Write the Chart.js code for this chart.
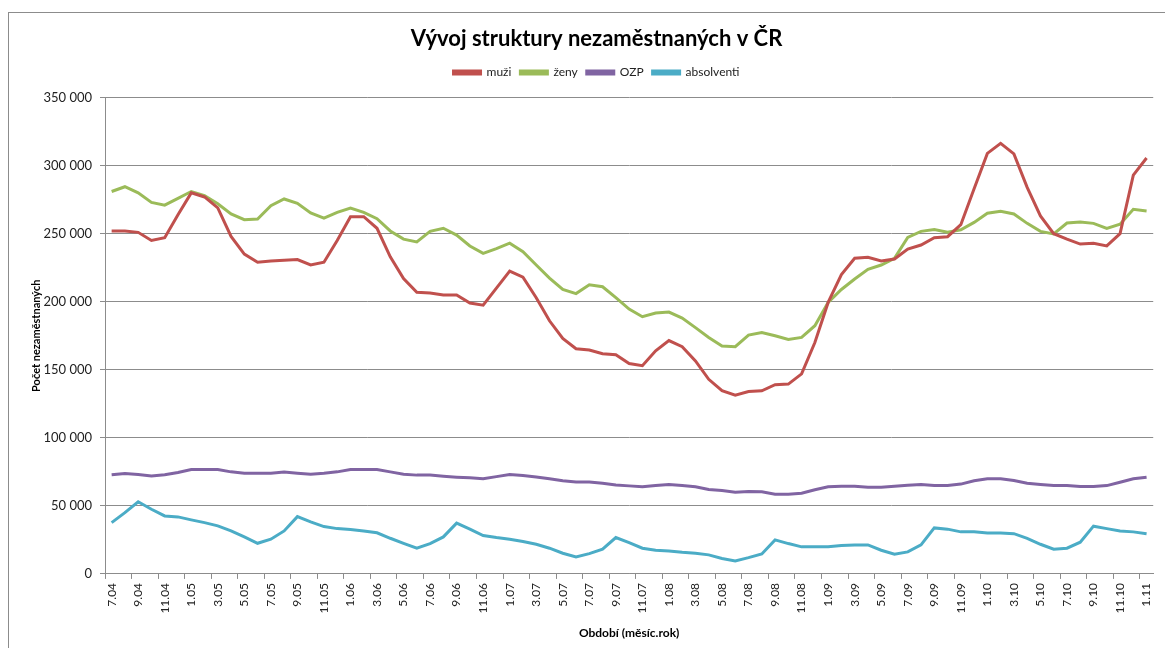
<!DOCTYPE html>
<html>
<head>
<meta charset="utf-8">
<script src="https://cdn.jsdelivr.net/npm/chart.js@4"></script>
<style>
  html, body { margin: 0; padding: 0; background: #fff; overflow: hidden; }
  #wrap { position: relative; width: 1165px; height: 648px; }
  #frame { position: absolute; left: 8px; top: 12px; width: 1170px; height: 660px; border: 1px solid #8c8c8c; box-sizing: border-box; }
  canvas { position: absolute; left: 0; top: 0; }
</style>
</head>
<body>
<div id="wrap">
  <div id="frame"></div>
  <canvas id="chart" width="1165" height="648"></canvas>
</div>
<script>
// months 7.04 .. 1.11
const periods = [
  '7.04','8.04','9.04','10.04','11.04','12.04',
  '1.05','2.05','3.05','4.05','5.05','6.05','7.05','8.05','9.05','10.05','11.05','12.05',
  '1.06','2.06','3.06','4.06','5.06','6.06','7.06','8.06','9.06','10.06','11.06','12.06',
  '1.07','2.07','3.07','4.07','5.07','6.07','7.07','8.07','9.07','10.07','11.07','12.07',
  '1.08','2.08','3.08','4.08','5.08','6.08','7.08','8.08','9.08','10.08','11.08','12.08',
  '1.09','2.09','3.09','4.09','5.09','6.09','7.09','8.09','9.09','10.09','11.09','12.09',
  '1.10','2.10','3.10','4.10','5.10','6.10','7.10','8.10','9.10','10.10','11.10','12.10',
  '1.11'
];

const muzi = [
  252000, 252000, 251000, 245000, 247000, 264000,
  280000, 277000, 269000, 248000, 235000, 229000, 230000, 230500, 231000, 227000, 229000, 245000,
  262500, 262500, 254000, 233000, 217000, 207000, 206500, 205000, 205000, 199000, 197500, 210000,
  222500, 218000, 203000, 186000, 173000, 165500, 164500, 161800, 161000, 154600, 153000, 164000,
  171500, 167000, 156500, 143000, 134600, 131400, 134000, 134600, 139000, 139500, 147000, 170000,
  199500, 220000, 232000, 232600, 230000, 231400, 238700, 241700, 247000, 247800, 256600, 283000,
  309000, 316400, 308600, 284000, 263000, 250000, 246000, 242400, 243000, 241000, 250000, 293000,
  305600
];

const zeny = [
  281000, 284500, 280000, 273000, 271000, 276000,
  281000, 278000, 272000, 264500, 260300, 260800, 270600, 275500, 272300, 265200, 261500, 265700,
  268900, 265700, 261000, 252000, 246000, 244000, 251700, 254000, 249000, 241000, 235500, 239000,
  243000, 236800, 227000, 217400, 209000, 206000, 212500, 211000, 203000, 194600, 189000, 191700,
  192400, 188000, 181000, 173700, 167400, 167000, 175500, 177400, 175000, 172300, 173800, 182400,
  199500, 209000, 216700, 223800, 227000, 231900, 247300, 251700, 253000, 251000, 252900, 258300,
  265000, 266400, 264500, 257600, 251700, 249800, 257800, 258600, 257600, 253900, 257000, 267900,
  266700
];

const ozp = [
  72800, 73800, 73000, 72000, 72800, 74500,
  76700, 76700, 76700, 75000, 74000, 74000, 74000, 74800, 74000, 73300, 74000, 75000,
  76700, 76700, 76700, 75000, 73300, 72600, 72600, 71800, 71100, 70600, 70000, 71500,
  73000, 72300, 71300, 69900, 68400, 67600, 67600, 66700, 65400, 64700, 64000, 64900,
  65700, 64900, 64000, 62000, 61300, 60000, 60500, 60300, 58600, 58600, 59300, 61800,
  64000, 64500, 64500, 63700, 63700, 64500, 65200, 65700, 64900, 64900, 66000, 68400,
  69900, 69900, 68600, 66700, 65700, 64900, 64900, 64200, 64200, 64900, 67400, 69900,
  71100
];

const absolventi = [
  37700, 45000, 53000, 47500, 42600, 41900,
  39700, 37700, 35300, 31600, 27200, 22500, 25500, 31600, 42100, 38200, 34800, 33300,
  32600, 31600, 30200, 26200, 22500, 18900, 22300, 27200, 37300, 32900, 28200, 26700,
  25500, 23800, 21800, 18900, 15200, 12500, 14900, 18200, 26700, 23000, 18900, 17400,
  16900, 15900, 15200, 14000, 11300, 9600, 12000, 14700, 25000, 22300, 19900, 19900,
  19900, 20800, 21300, 21300, 17400, 14500, 16200, 21300, 33800, 32900, 30900, 30900,
  30100, 30100, 29600, 26200, 21800, 18200, 18900, 23300, 35100, 33300, 31600, 30900,
  29600
];

const seriesNames = ['muži', 'ženy', 'OZP', 'absolventi'];
const seriesColors = ['#C0504D', '#9BBB59', '#8064A2', '#4BACC6'];
const seriesData = [muzi, zeny, ozp, absolventi];

const gridGray = '#8c8c8c';
const fontFamily = 'Lato, "Open Sans", sans-serif';

// "350 000" style
function fmt(v) {
  return String(v).replace(/\B(?=(\d{3})+(?!\d))/g, ' ');
}

const datasets = seriesNames.map((name, i) => ({
  label: name,
  data: seriesData[i],
  borderColor: seriesColors[i],
  backgroundColor: seriesColors[i],
  borderWidth: 3,
  pointRadius: 0,
  tension: 0,
  fill: false
}));

new Chart(document.getElementById('chart'), {
  type: 'line',
  data: { labels: periods, datasets: datasets },
  options: {
    responsive: false,
    animation: false,
    events: [],
    layout: { padding: { left: 30, right: 2, top: 12, bottom: 8 } },
    plugins: {
      title: {
        display: true,
        text: 'Vývoj struktury nezaměstnaných v ČR',
        color: '#000',
        font: { family: fontFamily, size: 22, weight: 'bold' },
        padding: { top: 14, bottom: 5 }
      },
      legend: {
        position: 'top',
        labels: {
          color: '#222',
          font: { family: fontFamily, size: 12 },
          boxWidth: 27,
          boxHeight: 3,
          padding: 9
        }
      },
      // empty spacer between legend and plot area
      subtitle: {
        display: true,
        text: ' ',
        weight: 500,
        font: { size: 1 },
        padding: { top: 0, bottom: 8 }
      },
      tooltip: { enabled: false }
    },
    scales: {
      x: {
        offset: true,
        grid: {
          offset: true,
          drawOnChartArea: false,
          drawTicks: true,
          tickLength: 5,
          color: ctx => (ctx.index % 2 === 0 ? gridGray : 'rgba(0,0,0,0)')
        },
        border: { color: gridGray, width: 1 },
        ticks: {
          autoSkip: false,
          maxRotation: 90,
          minRotation: 90,
          padding: 4,
          color: '#222',
          font: { family: fontFamily, size: 12 },
          callback: function(val, idx) {
            return idx % 2 === 0 ? this.getLabelForValue(val) : '';
          }
        },
        title: {
          display: true,
          text: 'Období (měsíc.rok)',
          color: '#000',
          font: { family: fontFamily, size: 12, weight: 'bold' },
          padding: { top: 8, bottom: 0 }
        }
      },
      y: {
        min: 0,
        max: 350000,
        afterFit: s => { s.width = 75; },
        grid: {
          color: gridGray,
          drawTicks: true,
          tickLength: 5
        },
        border: { color: gridGray, width: 1 },
        ticks: {
          stepSize: 50000,
          padding: 8,
          color: '#222',
          font: { family: fontFamily, size: 13 },
          callback: v => fmt(v)
        },
        title: {
          display: true,
          text: 'Počet nezaměstnaných',
          color: '#000',
          font: { family: fontFamily, size: 11, weight: 'bold' },
          padding: { top: 0, bottom: 0 }
        }
      }
    }
  }
});
</script>
</body>
</html>
